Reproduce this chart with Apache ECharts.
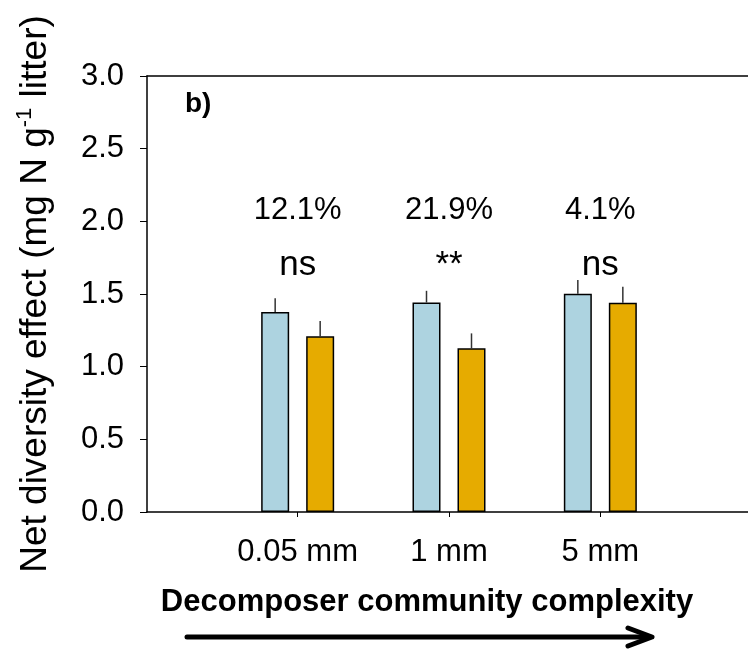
<!DOCTYPE html>
<html lang="en">
<head>
  <meta charset="UTF-8">
  <title>Net diversity effect</title>
  <script src="https://cdn.jsdelivr.net/npm/echarts@6/dist/echarts.min.js"></script>
  <style>
    html, body { margin: 0; padding: 0; background: #fff; }
    #container { width: 748px; height: 649px; }
  </style>
</head>
<body>
  <div id="container"></div>
  <script>
    // data
    const categories = ['0.05 mm', '1 mm', '5 mm'];
    const blueMeans = [1.377, 1.442, 1.501];
    const blueUpper = [1.470, 1.522, 1.596];
    const orangeMeans = [1.210, 1.127, 1.439];
    const orangeUpper = [1.315, 1.229, 1.550];
    const pctLabels = ['12.1%', '21.9%', '4.1%'];
    const sigLabels = ['ns', '**', 'ns'];
    const yTicks = [0, 0.5, 1.0, 1.5, 2.0, 2.5, 3.0];

    const FONT = 'Liberation Sans, Arial, sans-serif';
    const BAR_W = 28;
    const GAP = 17;
    const PCT_Y = 2.078;
    const SIG_Y = 1.70;

    const chart = echarts.init(document.getElementById('container'), null, { renderer: 'canvas' });

    function errorBars(means, upper, side) {
      return {
        type: 'custom',
        xAxisIndex: 2,
        yAxisIndex: 1,
        silent: true,
        z: 1,
        data: means.map((m, i) => [i, m, upper[i]]),
        renderItem(params, api) {
          const lo = api.coord([api.value(0), api.value(1)]);
          const hi = api.coord([api.value(0), api.value(2)]);
          const dx = side * (BAR_W + GAP) / 2;
          return {
            type: 'line',
            shape: { x1: lo[0] + dx, y1: lo[1], x2: hi[0] + dx, y2: hi[1] },
            style: { stroke: '#333', lineWidth: 1.5 }
          };
        }
      };
    }

    function textLayer(labels, yVal, size) {
      return {
        type: 'scatter',
        xAxisIndex: 2,
        yAxisIndex: 1,
        symbolSize: 0,
        silent: true,
        itemStyle: { opacity: 1 },
        data: labels.map((t, i) => ({ value: [i, yVal], name: t })),
        label: {
          show: true,
          position: 'inside',
          formatter: p => p.name,
          fontFamily: FONT,
          fontSize: size,
          color: '#000',
          opacity: 1,
          textBorderWidth: 0
        }
      };
    }

    const option = {
      animation: false,
      backgroundColor: '#fff',
      title: {
        text: 'b)',
        left: 185,
        top: 90,
        padding: 0,
        textStyle: { fontFamily: FONT, fontSize: 28, fontWeight: 'bold', color: '#000' }
      },
      grid: [
        { left: 147, right: 0, top: 76, bottom: 137 },
        { left: 222, right: 72, top: 76, bottom: 137 }
      ],
      xAxis: [
        {
          type: 'value', gridIndex: 0, min: 0, max: 1,
          axisLine: { show: true, lineStyle: { color: '#000', width: 1.5 } },
          axisTick: { show: false }, axisLabel: { show: false }, splitLine: { show: false }
        },
        {
          type: 'value', gridIndex: 0, min: 0, max: 1, position: 'top',
          axisLine: { show: true, lineStyle: { color: '#000', width: 1.5 } },
          axisTick: { show: false }, axisLabel: { show: false }, splitLine: { show: false }
        },
        {
          type: 'category', gridIndex: 1, data: categories,
          axisLine: { show: false },
          axisTick: { show: true, alignWithLabel: true, interval: 0, length: 5, lineStyle: { color: '#000', width: 1 } },
          axisLabel: { fontFamily: FONT, fontSize: 31, color: '#000', margin: 25, interval: 0, hideOverlap: false },
          splitLine: { show: false }
        }
      ],
      yAxis: [
        {
          type: 'value', gridIndex: 0, min: 0, max: 3, interval: 0.5,
          axisLine: { show: true, lineStyle: { color: '#000', width: 1.5 } },
          axisTick: { show: true, length: 7, lineStyle: { color: '#000', width: 1 } },
          axisLabel: {
            fontFamily: FONT, fontSize: 31, color: '#000', margin: 23,
            formatter: v => yTicks.includes(v) ? v.toFixed(1) : ''
          },
          splitLine: { show: false },
          name: 'Net diversity effect (mg N g{sup|-1} litter)',
          nameLocation: 'middle',
          nameRotate: 90,
          nameGap: 90,
          nameTextStyle: {
            fontFamily: FONT, fontSize: 37, color: '#000', lineHeight: 43,
            rich: {
              sup: { fontFamily: FONT, fontSize: 22, color: '#000', verticalAlign: 'top', lineHeight: 43 }
            }
          }
        },
        {
          type: 'value', gridIndex: 1, min: 0, max: 3, interval: 0.5, show: false
        }
      ],
      series: [
        {
          type: 'bar', xAxisIndex: 2, yAxisIndex: 1,
          data: blueMeans, barWidth: BAR_W, barGap: (GAP / BAR_W * 100) + '%',
          itemStyle: { color: '#ADD3E0', borderColor: '#000', borderWidth: 1.5 }
        },
        {
          type: 'bar', xAxisIndex: 2, yAxisIndex: 1,
          data: orangeMeans, barWidth: BAR_W,
          itemStyle: { color: '#E6AB00', borderColor: '#000', borderWidth: 1.5 }
        },
        errorBars(blueMeans, blueUpper, -1),
        errorBars(orangeMeans, orangeUpper, 1),
        textLayer(pctLabels, PCT_Y, 31),
        textLayer(sigLabels, SIG_Y, 35)
      ],
      graphic: [
        {
          type: 'text', x: 427, y: 602,
          style: {
            text: 'Decomposer community complexity',
            fontFamily: FONT, fontSize: 31, fontWeight: 'bold', fill: '#000',
            align: 'center', verticalAlign: 'middle'
          }
        },
        {
          type: 'line',
          shape: { x1: 187, y1: 637, x2: 650, y2: 637 },
          style: { stroke: '#000', lineWidth: 5, lineCap: 'round' }
        },
        {
          type: 'polyline',
          shape: { points: [[628, 628], [652, 637], [628, 646]] },
          style: { stroke: '#000', lineWidth: 5, lineCap: 'round', lineJoin: 'round', fill: null }
        }
      ]
    };

    chart.setOption(option);
  </script>
</body>
</html>
